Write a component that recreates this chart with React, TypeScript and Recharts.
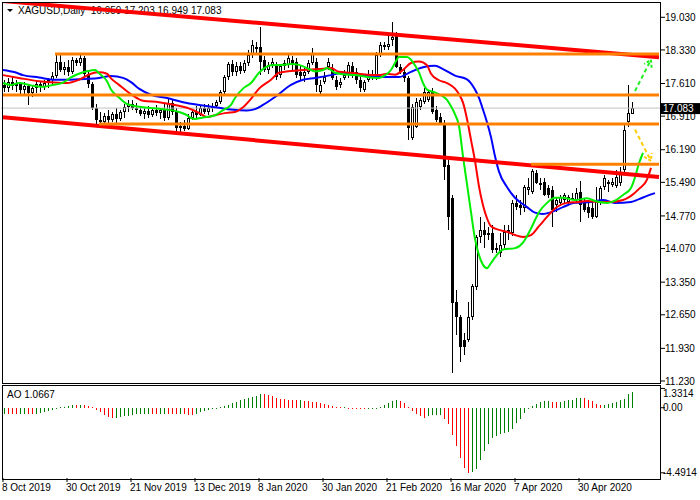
import React from "react";
import { ComposedChart, Bar, Line, XAxis, YAxis, ReferenceLine } from "recharts";

const FONT = '"Liberation Sans", Arial, sans-serif';

// x axis labels, placed on these bar numbers
const tickBars = [0, 16, 32, 48, 64, 80, 96, 112, 128, 144];
const tickDates = [
  "8 Oct 2019", "30 Oct 2019", "21 Nov 2019", "13 Dec 2019", "8 Jan 2020",
  "30 Jan 2020", "21 Feb 2020", "16 Mar 2020", "7 Apr 2020", "30 Apr 2020",
];

const priceTicks = [19.03, 18.33, 17.61, 16.91, 16.19, 15.49, 14.77, 14.07, 13.35, 12.65, 11.93, 11.23];
const aoTicks = [1.3314, 0, -4.4914];
const aoTickText = ["1.3314", "0.00", "-4.4914"];

// daily candles XAGUSD
const opens = [
  17.58, 17.51, 17.64, 17.56, 17.6, 17.47, 17.56, 17.41, 17.51, 17.6,
  17.54, 17.62, 17.69, 17.77, 18.07, 17.9, 17.97, 17.86, 18.11, 18.05,
  18.16, 17.81, 17.6, 17.09, 16.83, 16.79, 16.91, 16.83, 16.96, 16.85,
  17.0, 17.11, 17.17, 17.09, 17.04, 16.96, 17.02, 16.94, 17.04, 16.98,
  17.04, 16.87, 17.19, 17.0, 16.66, 16.7, 16.64, 16.87, 17.0, 16.94,
  17.09, 17.0, 17.09, 17.13, 17.21, 17.43, 17.75, 18.03, 17.86, 17.99,
  17.88, 18.05, 18.22, 18.35, 18.39, 18.11, 17.9, 18.01, 17.99, 17.79,
  17.99, 18.01, 18.11, 18.07, 17.86, 17.77, 17.86, 18.05, 18.07, 17.43,
  17.64, 17.97, 17.94, 17.69, 17.58, 17.73, 17.79, 17.99, 17.86, 17.69,
  17.47, 17.69, 17.79, 17.73, 18.22, 18.39, 18.39, 18.54, 18.65, 17.97,
  17.86, 17.73, 16.44, 16.68, 17.11, 17.21, 17.26, 17.43, 17.04, 16.89,
  16.76, 15.86, 15.15, 12.92, 12.6, 12.11, 12.11, 12.6, 13.25, 14.32,
  14.47, 14.36, 14.4, 14.04, 13.97, 14.15, 14.43, 14.4, 15.05, 15.0,
  14.94, 15.33, 15.28, 15.69, 15.47, 15.49, 15.37, 15.33, 15.0, 15.05,
  15.11, 15.07, 15.15, 15.11, 15.28, 15.05, 14.96, 14.94, 14.75, 15.05,
  15.39, 15.49, 15.43, 15.41, 15.47, 15.75, 16.79, 16.959,
];
const highs = [
  17.69, 17.73, 17.77, 17.69, 17.64, 17.64, 17.6, 17.58, 17.69, 17.64,
  17.69, 17.73, 17.86, 18.26, 18.22, 18.07, 18.11, 18.18, 18.16, 18.22,
  18.2, 17.86, 17.64, 17.17, 17.0, 16.98, 17.04, 17.0, 17.09, 17.04,
  17.17, 17.26, 17.26, 17.19, 17.13, 17.09, 17.13, 17.09, 17.15, 17.09,
  17.17, 17.3, 17.26, 17.09, 16.79, 16.83, 16.96, 17.04, 17.13, 17.15,
  17.17, 17.17, 17.19, 17.26, 17.47, 17.79, 18.07, 18.11, 18.07, 18.07,
  18.11, 18.33, 18.54, 18.5, 18.82, 18.2, 18.07, 18.16, 18.07, 18.03,
  18.11, 18.22, 18.2, 18.16, 18.01, 17.94, 18.11, 18.37, 18.16, 17.69,
  17.86, 18.16, 18.03, 17.77, 17.73, 17.9, 18.07, 18.07, 17.94, 17.77,
  17.69, 17.9, 17.9, 18.29, 18.5, 18.5, 18.65, 18.93, 18.71, 18.03,
  17.94, 17.77, 17.17, 17.3, 17.3, 17.51, 17.47, 17.51, 17.13, 16.98,
  16.83, 15.97, 15.22, 13.18, 12.65, 12.26, 12.92, 13.31, 14.36, 14.75,
  14.64, 14.53, 14.57, 14.19, 14.4, 14.57, 14.57, 15.11, 15.22, 15.11,
  15.43, 15.58, 15.77, 15.75, 15.58, 15.58, 15.43, 15.41, 15.15, 15.22,
  15.26, 15.22, 15.26, 15.37, 15.52, 15.15, 15.11, 15.07, 15.39, 15.41,
  15.65, 15.54, 15.58, 15.75, 15.82, 16.72, 17.58, 17.203,
];
const lows = [
  17.43, 17.43, 17.47, 17.43, 17.36, 17.39, 17.15, 17.32, 17.41, 17.43,
  17.47, 17.51, 17.56, 17.73, 17.86, 17.79, 17.77, 17.81, 17.99, 17.99,
  17.77, 17.51, 17.04, 16.74, 16.72, 16.72, 16.74, 16.79, 16.74, 16.81,
  16.87, 17.0, 17.04, 16.98, 16.91, 16.85, 16.87, 16.89, 16.91, 16.85,
  16.81, 16.83, 16.94, 16.59, 16.57, 16.6, 16.61, 16.83, 16.87, 16.91,
  16.96, 16.94, 17.0, 17.09, 17.17, 17.39, 17.69, 17.77, 17.77, 17.81,
  17.84, 17.99, 18.16, 18.24, 17.79, 17.86, 17.81, 17.94, 17.69, 17.73,
  17.9, 17.94, 17.9, 17.73, 17.69, 17.64, 17.81, 18.01, 17.43, 17.36,
  17.6, 17.9, 17.69, 17.47, 17.51, 17.69, 17.73, 17.73, 17.6, 17.43,
  17.43, 17.64, 17.69, 17.69, 18.18, 18.33, 18.33, 18.41, 17.94, 17.81,
  17.64, 16.4, 16.4, 16.66, 17.04, 17.17, 17.21, 16.96, 16.79, 16.72,
  15.55, 14.47, 11.4, 12.21, 11.64, 11.79, 12.07, 12.54, 13.18, 14.19,
  14.08, 14.25, 13.97, 13.97, 13.89, 14.08, 14.25, 14.34, 14.9, 14.79,
  14.85, 15.22, 15.24, 15.45, 15.33, 15.2, 15.15, 14.53, 14.85, 14.98,
  15.05, 15.0, 15.11, 15.05, 14.64, 14.85, 14.73, 14.71, 14.73, 15.0,
  15.33, 15.28, 15.39, 15.37, 15.41, 15.69, 16.68, 16.949,
];
const closes = [
  17.51, 17.64, 17.56, 17.6, 17.47, 17.56, 17.41, 17.51, 17.6, 17.54,
  17.62, 17.69, 17.77, 18.07, 17.9, 17.97, 17.86, 18.11, 18.05, 18.16,
  17.81, 17.6, 17.09, 16.83, 16.79, 16.91, 16.83, 16.96, 16.85, 17.0,
  17.11, 17.17, 17.09, 17.04, 16.96, 17.02, 16.94, 17.04, 16.98, 17.04,
  16.87, 17.19, 17.0, 16.66, 16.7, 16.64, 16.87, 17.0, 16.94, 17.09,
  17.0, 17.09, 17.13, 17.21, 17.43, 17.75, 18.03, 17.86, 17.99, 17.88,
  18.05, 18.22, 18.44, 18.39, 18.07, 17.9, 18.01, 18.07, 17.75, 17.99,
  18.05, 18.16, 18.03, 17.79, 17.77, 17.86, 18.05, 18.26, 17.58, 17.58,
  17.75, 18.07, 17.73, 17.54, 17.64, 17.79, 18.01, 17.86, 17.69, 17.51,
  17.64, 17.81, 17.77, 18.22, 18.44, 18.44, 18.46, 18.61, 17.97, 17.86,
  17.73, 16.66, 17.11, 17.21, 17.26, 17.43, 17.43, 17.0, 16.83, 16.76,
  15.81, 14.75, 12.9, 12.6, 11.96, 11.96, 12.6, 13.27, 14.32, 14.47,
  14.36, 14.4, 14.04, 14.08, 14.15, 14.43, 14.47, 15.05, 14.96, 14.94,
  15.39, 15.39, 15.73, 15.47, 15.43, 15.22, 15.22, 14.9, 15.11, 15.18,
  15.22, 15.18, 15.13, 15.26, 15.0, 14.9, 14.83, 14.75, 15.07, 15.37,
  15.58, 15.45, 15.49, 15.6, 15.69, 16.61, 16.98, 17.083,
];

// Awesome Oscillator
const aoValues = [
  -0.4, -0.42, -0.44, -0.45, -0.42, -0.4, -0.43, -0.45, -0.4, -0.36,
  -0.32, -0.26, -0.18, -0.08, 0.03, 0.08, 0.13, 0.18, 0.16, 0.19,
  0.17, 0.1, 0.02, -0.15, -0.32, -0.52, -0.65, -0.72, -0.68, -0.62,
  -0.58, -0.55, -0.5, -0.46, -0.44, -0.42, -0.4, -0.42, -0.43, -0.41,
  -0.4, -0.42, -0.44, -0.46, -0.43, -0.45, -0.5, -0.52, -0.4, -0.32,
  -0.24, -0.14, -0.05, 0.01, 0.04, 0.1, 0.2, 0.32, 0.43, 0.52,
  0.6, 0.67, 0.74, 0.82, 0.94, 0.92, 0.86, 0.78, 0.7, 0.63,
  0.58, 0.55, 0.52, 0.5, 0.51, 0.47, 0.44, 0.42, 0.38, 0.33,
  0.27, 0.2, 0.13, 0.06, 0.02, 0.03, -0.03, -0.07, -0.09, -0.1,
  -0.1, -0.09, -0.08, -0.05, 0.06, 0.18, 0.3, 0.45, 0.53, 0.48,
  0.3, 0.08, -0.2, -0.42, -0.6, -0.7, -0.58, -0.52, -0.5, -0.47,
  -0.8, -1.15, -1.85, -2.65, -3.5, -4.15, -4.4914, -4.45, -4.2, -3.6,
  -2.96, -2.5, -2.12, -1.93, -1.84, -1.77, -1.66, -1.49, -1.08, -0.8,
  -0.39, -0.05, 0.1, 0.25, 0.4, 0.45, 0.47, 0.42, 0.38, 0.42,
  0.45, 0.5, 0.53, 0.64, 0.69, 0.65, 0.55, 0.45, 0.28, 0.2,
  0.22, 0.28, 0.35, 0.42, 0.5, 0.62, 0.92, 1.0667,
];

// alligator lines, read as [bar, price]
const lipsPts = [
  [0, 17.62], [2, 17.58], [4, 17.62], [7, 17.57], [10, 17.54], [12, 17.57], [15, 17.63], [17, 17.74],
  [20, 17.85], [22, 17.89], [23, 17.9], [24, 17.83], [26, 17.66], [27, 17.48], [29, 17.31], [31, 17.17],
  [35, 17.1], [40, 17.06], [44, 17.0], [46, 16.93], [47, 16.87], [48, 16.85], [50, 16.88], [53, 16.93],
  [55, 17.04], [57, 17.15], [58, 17.3], [60, 17.5], [62, 17.62], [64, 17.84], [67, 18.0], [70, 18.01],
  [72, 18.03], [74, 18.01], [76, 17.94], [78, 17.87], [80, 17.9], [81, 17.94], [83, 17.84], [85, 17.81],
  [88, 17.79], [91, 17.75], [94, 17.73], [95, 17.76], [97, 17.9], [98, 18.05], [99, 18.18], [101, 18.18],
  [102, 18.12], [103, 18.0], [104, 17.85], [105, 17.62], [106, 17.48], [108, 17.42], [110, 17.33], [111, 17.26],
  [112, 17.12], [113, 16.95], [114, 16.7], [115, 16.05], [116, 15.45], [117, 14.85], [118, 14.28], [119, 13.93],
  [120, 13.72], [121, 13.65], [122, 13.76], [123, 13.88], [125, 14.05], [128, 14.08], [130, 14.2], [132, 14.5],
  [134, 14.85], [136, 15.05], [138, 15.16], [140, 15.16], [143, 15.11], [146, 15.15], [148, 15.09], [151, 15.05],
  [153, 15.1], [155, 15.22], [157, 15.37], [158, 15.6], [159, 15.9], [160, 16.12],
];
const teethPts = [
  [0, 17.79], [4, 17.73], [9, 17.66], [13, 17.63], [16, 17.62], [19, 17.69], [22, 17.82], [24, 17.85],
  [26, 17.82], [27, 17.72], [29, 17.58], [32, 17.38], [35, 17.24], [39, 17.21], [43, 17.15], [46, 17.09],
  [49, 16.98], [51, 16.89], [53, 16.93], [56, 16.98], [58, 17.0], [60, 17.1], [62, 17.28], [64, 17.5],
  [67, 17.69], [69, 17.84], [72, 17.88], [75, 17.9], [79, 17.92], [82, 17.94], [84, 17.86], [87, 17.84],
  [90, 17.81], [94, 17.79], [96, 17.82], [98, 17.8], [100, 17.9], [102, 18.05], [104, 18.08], [106, 18.0],
  [107, 17.82], [109, 17.68], [111, 17.62], [113, 17.5], [114, 17.38], [115, 17.2], [116, 16.85], [117, 16.4],
  [118, 15.95], [119, 15.4], [120, 15.0], [121, 14.72], [122, 14.55], [124, 14.47], [126, 14.43], [128, 14.36],
  [130, 14.32], [132, 14.36], [134, 14.55], [136, 14.75], [138, 14.93], [141, 15.05], [144, 15.07], [146, 15.09],
  [149, 15.07], [152, 15.07], [155, 15.11], [157, 15.2], [159, 15.35], [161, 15.55], [162, 15.8],
];
const jawPts = [
  [0, 17.9], [3, 17.85], [5, 17.79], [9, 17.74], [13, 17.69], [16, 17.69], [21, 17.71], [24, 17.73],
  [27, 17.77], [30, 17.73], [32, 17.64], [34, 17.5], [37, 17.37], [41, 17.3], [45, 17.21], [50, 17.14],
  [54, 17.09], [57, 17.05], [61, 17.03], [63, 17.06], [65, 17.15], [68, 17.32], [72, 17.58], [75, 17.69],
  [78, 17.73], [82, 17.79], [85, 17.84], [88, 17.79], [92, 17.77], [95, 17.75], [99, 17.75], [102, 17.86],
  [105, 17.96], [108, 17.99], [110, 17.92], [113, 17.78], [116, 17.7], [118, 17.48], [119, 17.3], [120, 17.05],
  [121, 16.78], [122, 16.46], [123, 16.05], [124, 15.72], [126, 15.39], [128, 15.16], [131, 14.96], [133, 14.84],
  [135, 14.81], [137, 14.85], [140, 14.96], [143, 15.05], [147, 15.07], [150, 15.11], [153, 15.05], [157, 15.07],
  [159, 15.13], [161, 15.2], [163, 15.26],
];

// drawn objects: horizontal levels (start bar, price), channel and arrows
const levelStarts = [13, 0, 24, 132];
const levelPrices = [18.243, 17.364, 16.742, 15.88];
const channelTop = [[0, 19.377], [164, 18.174]];
const channelBottom = [[0, 16.886], [164, 15.603]];
const arrowUp = [[158, 17.45], [162, 18.12]];
const arrowDown = [[158, 16.62], [162, 15.95]];

const SLOTS = 165;
const last = closes.length - 1;
const lastClose = closes[last];

const lipsAt = new Map(lipsPts.map(([i, v]) => [i, v]));
const teethAt = new Map(teethPts.map(([i, v]) => [i, v]));
const jawAt = new Map(jawPts.map(([i, v]) => [i, v]));

const rows = Array.from({ length: SLOTS }, (_, i) => {
  const has = i < closes.length;
  const ao = i < aoValues.length ? aoValues[i] : null;
  return {
    i,
    o: has ? opens[i] : null,
    h: has ? highs[i] : null,
    l: has ? lows[i] : null,
    c: has ? closes[i] : null,
    range: has ? [lows[i], highs[i]] : null,
    lips: lipsAt.has(i) ? lipsAt.get(i) : null,
    teeth: teethAt.has(i) ? teethAt.get(i) : null,
    jaw: jawAt.has(i) ? jawAt.get(i) : null,
    ao,
    aoColor: ao == null ? "none" : i === 0 || ao > aoValues[i - 1] ? "#008000" : "#ff0000",
  };
});

function Candle(props: any) {
  const { x, y, width, height, payload } = props;
  if (payload.o == null || height == null) return null;
  const cx = Math.round(x + width / 2);
  const span = payload.h - payload.l;
  const ppu = span > 0 ? height / span : 0;
  const top = y + (payload.h - Math.max(payload.o, payload.c)) * ppu;
  const bot = y + (payload.h - Math.min(payload.o, payload.c)) * ppu;
  const wy = Math.round(y);
  const wb = Math.round(y + height);
  const bt = Math.round(top);
  const bb = Math.max(Math.round(bot), bt + 1);
  const bull = payload.c > payload.o;
  return (
    <g>
      <rect x={cx} y={wy} width={1} height={Math.max(1, wb - wy)} fill="#000" />
      <rect x={cx - 1} y={bt} width={3} height={bb - bt} fill="#000" />
      {bull && bb - bt > 2 && <rect x={cx} y={bt + 1} width={1} height={bb - bt - 2} fill="#fff" />}
    </g>
  );
}

function AoBar(props: any) {
  const { x, y, width, height, payload } = props;
  if (payload.ao == null) return null;
  const cx = Math.round(x + width / 2);
  const t = Math.round(Math.min(y, y + height));
  const b = Math.round(Math.max(y, y + height));
  return <rect x={cx} y={t} width={1} height={Math.max(1, b - t)} fill={payload.aoColor} />;
}

function DashedArrow(props: any) {
  const { x1, y1, x2, y2, stroke } = props;
  const ang = Math.atan2(y2 - y1, x2 - x1);
  const len = 8;
  const a1 = ang + Math.PI - 0.55;
  const a2 = ang + Math.PI + 0.55;
  const p1 = `${x2 + len * Math.cos(a1)},${y2 + len * Math.sin(a1)}`;
  const p2 = `${x2 + len * Math.cos(a2)},${y2 + len * Math.sin(a2)}`;
  return (
    <g>
      <line x1={x1} y1={y1} x2={x2} y2={y2} stroke={stroke} strokeWidth={2} strokeDasharray="4 3" />
      <polyline points={`${p1} ${x2},${y2} ${p2}`} fill="none" stroke={stroke} strokeWidth={2} strokeDasharray="3 2" />
    </g>
  );
}

function PriceTick(props: any) {
  const { x, y, payload } = props;
  const v = payload.value;
  const label = v.toFixed(3);
  if (v === lastClose) {
    return (
      <g>
        <rect x={x - 4} y={y - 5} width={39} height={11} fill="#000" />
        <text x={x - 2} y={y} dy="0.36em" fontSize={10} fontFamily={FONT} fill="#fff">{label}</text>
      </g>
    );
  }
  return <text x={x} y={y} dy="0.36em" fontSize={10} fontFamily={FONT} fill="#000">{label}</text>;
}

// AO panel plot area runs from 2 to 94 inside its svg; keep labels inside it
function AoTick(props: any) {
  const { x, y, payload } = props;
  const k = aoTicks.indexOf(payload.value);
  const ty = Math.min(Math.max(y, 9), 89);
  return <text x={x - 2} y={ty} dy="0.36em" fontSize={10} fontFamily={FONT} fill="#000">{aoTickText[k]}</text>;
}

function DateTick(props: any) {
  const { x, y, payload } = props;
  const k = tickBars.indexOf(payload.value);
  return <text x={x - 1} y={y} dy="0.71em" fontSize={10} fontFamily={FONT} fill="#000">{tickDates[k]}</text>;
}

export default function App() {
  const lastRow = rows[last];
  return (
    <div style={{ position: "fixed", left: 0, top: 0, width: 700, height: 500, background: "#fff", overflow: "hidden" }}>
      <svg style={{ position: "absolute", left: 0, top: 0 }} width={16} height={16}>
        <polygon points="7,9 13,9 10,12" fill="#000" />
      </svg>
      <div style={{ position: "absolute", left: 18, top: 5, fontFamily: FONT, fontSize: 10, lineHeight: "12px", whiteSpace: "pre", color: "#000" }}>
        {`XAGUSD,Daily  ${lastRow.o.toFixed(3)} ${lastRow.h.toFixed(3)} ${lastRow.l.toFixed(3)} ${lastRow.c.toFixed(3)}`}
      </div>
      <div style={{ position: "absolute", left: 7, top: 389, fontFamily: FONT, fontSize: 10, lineHeight: "12px", whiteSpace: "pre", color: "#000" }}>
        {`AO ${aoValues[last].toFixed(4)}`}
      </div>

      <div style={{ position: "absolute", left: 0, top: 384 }}>
        <ComposedChart width={700} height={116} data={rows} margin={{ top: 2, right: 0, bottom: 0, left: 1 }}>
          <XAxis
            dataKey="i"
            ticks={tickBars}
            interval={0}
            axisLine={false}
            tickLine={{ stroke: "#000" }}
            tickSize={4}
            tickMargin={2}
            height={22}
            tick={(p: any) => <DateTick {...p} />}
          />
          <YAxis
            orientation="right"
            width={39}
            domain={[-4.85, 1.5]}
            allowDataOverflow
            ticks={aoTicks}
            interval={0}
            axisLine={false}
            tickLine={{ stroke: "#000" }}
            tickSize={4}
            tickMargin={0}
            tick={(p: any) => <AoTick {...p} />}
          />
          <Bar dataKey="ao" barSize={1} isAnimationActive={false} shape={(p: any) => <AoBar {...p} />} />
        </ComposedChart>
      </div>

      <div style={{ position: "absolute", left: 0, top: 0 }}>
        <ComposedChart width={700} height={392} data={rows} margin={{ top: 2, right: 0, bottom: 9, left: 1 }}>
          <XAxis dataKey="i" hide />
          <YAxis
            orientation="right"
            width={39}
            domain={[11.187, 19.358]}
            allowDataOverflow
            ticks={[...priceTicks, lastClose]}
            interval={0}
            axisLine={false}
            tickLine={{ stroke: "#000" }}
            tickSize={4}
            tickMargin={0}
            tick={(p: any) => <PriceTick {...p} />}
          />
          <ReferenceLine y={lastClose} stroke="#c0c0c0" strokeWidth={1} />
          <Bar dataKey={(d: any) => d.range} barSize={3} isAnimationActive={false} shape={(p: any) => <Candle {...p} />} />
          <Line dataKey="jaw" stroke="#0000ff" strokeWidth={2} dot={false} connectNulls type="monotone" isAnimationActive={false} />
          <Line dataKey="teeth" stroke="#ff0000" strokeWidth={2} dot={false} connectNulls type="monotone" isAnimationActive={false} />
          <Line dataKey="lips" stroke="#00ee00" strokeWidth={2} dot={false} connectNulls type="monotone" isAnimationActive={false} />
          <ReferenceLine
            segment={[{ x: channelTop[0][0], y: channelTop[0][1] }, { x: channelTop[1][0], y: channelTop[1][1] }]}
            stroke="#ff0000"
            strokeWidth={4}
            ifOverflow="hidden"
          />
          <ReferenceLine
            segment={[{ x: channelBottom[0][0], y: channelBottom[0][1] }, { x: channelBottom[1][0], y: channelBottom[1][1] }]}
            stroke="#ff0000"
            strokeWidth={4}
            ifOverflow="hidden"
          />
          {levelPrices.map((p, k) => (
            <ReferenceLine
              key={k}
              segment={[{ x: levelStarts[k], y: p }, { x: SLOTS - 1, y: p }]}
              stroke="#ff8000"
              strokeWidth={3}
              ifOverflow="hidden"
            />
          ))}
          <ReferenceLine
            segment={[{ x: arrowUp[0][0], y: arrowUp[0][1] }, { x: arrowUp[1][0], y: arrowUp[1][1] }]}
            stroke="#22ee22"
            ifOverflow="visible"
            shape={(p: any) => <DashedArrow {...p} />}
          />
          <ReferenceLine
            segment={[{ x: arrowDown[0][0], y: arrowDown[0][1] }, { x: arrowDown[1][0], y: arrowDown[1][1] }]}
            stroke="#ffcc00"
            ifOverflow="visible"
            shape={(p: any) => <DashedArrow {...p} />}
          />
        </ComposedChart>
      </div>

      <div style={{ position: "absolute", left: 2, top: 2, width: 659, height: 382, border: "1px solid #000", boxSizing: "border-box", pointerEvents: "none" }} />
      <div style={{ position: "absolute", left: 2, top: 385, width: 659, height: 95, border: "1px solid #000", boxSizing: "border-box", pointerEvents: "none" }} />
    </div>
  );
}
